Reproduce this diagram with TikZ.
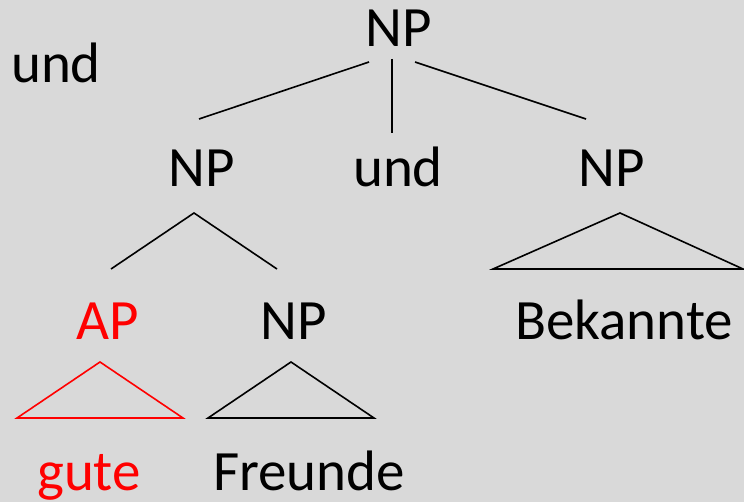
\documentclass[tikz,border=0pt]{standalone}
\usepackage{fontspec}
\setmainfont{Carlito}
\definecolor{bg}{HTML}{D9D9D9}
\definecolor{redtext}{HTML}{FF0000}
\begin{document}
\begin{tikzpicture}[x=1pt,y=-1pt,
  lbl/.style={anchor=base,inner sep=0pt,font=\fontsize{57}{60}\selectfont},
  edge/.style={line width=1.6pt,line join=miter},
  redlbl/.style={lbl,text=redtext}]
\fill[bg] (0,0) rectangle (744,502);
\useasboundingbox (0,0) rectangle (744,502);
% labels
\node[lbl] (und0) at (56,83) {und};
\node[lbl] (root) at (399,47) {NP};
\node[lbl] (npl) at (202,187) {NP};
\node[lbl] (undm) at (398,187) {und};
\node[lbl] (npr) at (612,187) {NP};
\node[redlbl] (ap) at (108,340) {AP};
\node[lbl] (npf) at (294,340) {NP};
\node[lbl] (bek) at (624,340) {Bekannte};
\node[redlbl] (gute) at (89,490) {gute};
\node[lbl] (freunde) at (309,490) {Freunde};
% line ends
\coordinate (r1) at (369,62);
\coordinate (r1e) at (199,119);
\coordinate (r2) at (392,59);
\coordinate (r2e) at (392,133);
\coordinate (r3) at (415,62);
\coordinate (r3e) at (586,119);
\coordinate (la) at (194,213);
\coordinate (l1) at (111,269);
\coordinate (l2) at (277,269);
\coordinate (ta) at (620,213);
\coordinate (tl) at (493,269);
\coordinate (tr) at (743,269);
\coordinate (aa) at (100,362);
\coordinate (al) at (17,418);
\coordinate (ar) at (183,418);
\coordinate (fa) at (291,362);
\coordinate (fl) at (208,418);
\coordinate (fr) at (374,418);
% connectors
\draw[edge] (r1) -- (r1e);
\draw[edge] (r2) -- (r2e);
\draw[edge] (r3) -- (r3e);
\draw[edge] (l1) -- (la) -- (l2);
\draw[edge] (ta) -- (tl) -- (tr) -- cycle;
\draw[edge,draw=redtext] (aa) -- (al) -- (ar) -- cycle;
\draw[edge] (fa) -- (fl) -- (fr) -- cycle;
\end{tikzpicture}
\end{document}
